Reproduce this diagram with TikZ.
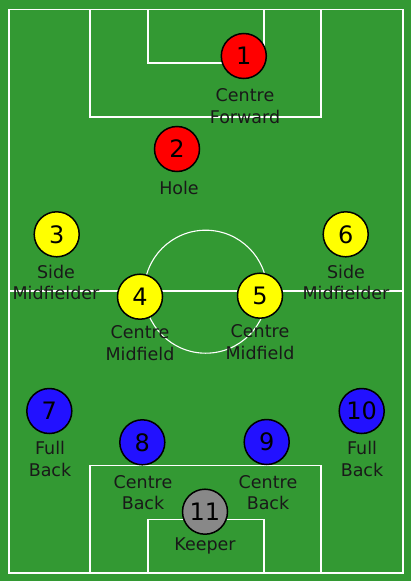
\documentclass[tikz,border=0pt]{standalone}
\usepackage{fontspec}
\setmainfont{DejaVu Sans}
\definecolor{pitch}{RGB}{51,153,51}
\definecolor{fwd}{RGB}{255,0,0}
\definecolor{mid}{RGB}{255,255,0}
\definecolor{def}{RGB}{34,17,255}
\definecolor{gk}{RGB}{136,136,136}
\tikzset{
  line/.style={draw=white, line width=1.1pt},
  player/.style={circle, draw=black, line width=1.5pt, minimum size=45pt, inner sep=0pt, font=\fontsize{24}{24}\selectfont},
  role/.style={align=center, font=\fontsize{17.5}{21.5}\selectfont, inner sep=0pt, text=black!90}
}
\begin{document}
\begin{tikzpicture}[x=1pt,y=-1pt]
\useasboundingbox (0,0) rectangle (411,581);
\fill[pitch] (0,0) rectangle (411,581);
% pitch markings
\draw[line] (9,9.5) rectangle (403,573);
\draw[line] (9,291) -- (403,291);
\draw[line] (205.7,291.7) circle (61.5);
\draw[line] (90,9.5) -- (90,117) -- (321,117) -- (321,9.5);
\draw[line] (148,9.5) -- (148,63) -- (264,63) -- (264,9.5);
\draw[line] (90,573) -- (90,465.3) -- (321,465.3) -- (321,573);
\draw[line] (148,573) -- (148,519.3) -- (264,519.3) -- (264,573);
% players
\node[player, fill=fwd] (p1) at (243.8,56) {1};
\node[player, fill=fwd] (p2) at (177,149) {2};
\node[player, fill=mid] (p3) at (56.7,234.3) {3};
\node[player, fill=mid] (p4) at (140,296.7) {4};
\node[player, fill=mid] (p5) at (260,295.7) {5};
\node[player, fill=mid] (p6) at (345.7,234.3) {6};
\node[player, fill=def] (p7) at (49.3,411) {7};
\node[player, fill=def] (p8) at (142.3,442.3) {8};
\node[player, fill=def] (p9) at (266.7,442) {9};
\node[player, fill=def] (p10) at (361.7,411) {10};
\node[player, fill=gk] (p11) at (205,511.7) {11};
% roles
\node[role] (r1) at (245,106) {Centre\\Forward};
\node[role] (r2) at (179,187.7) {Hole};
\node[role] (r3) at (56,282.5) {Side\\Midfielder};
\node[role] (r6) at (346,282.5) {Side\\Midfielder};
\node[role] (r4) at (140,343.3) {Centre\\Midfield};
\node[role] (r5) at (260,342) {Centre\\Midfield};
\node[role] (r7) at (50,458.8) {Full\\Back};
\node[role] (r10) at (362,458.8) {Full\\Back};
\node[role] (r8) at (143,492.5) {Centre\\Back};
\node[role] (r9) at (268,492.5) {Centre\\Back};
\node[role] (r11) at (205,545.7) {Keeper};
\end{tikzpicture}
\end{document}
